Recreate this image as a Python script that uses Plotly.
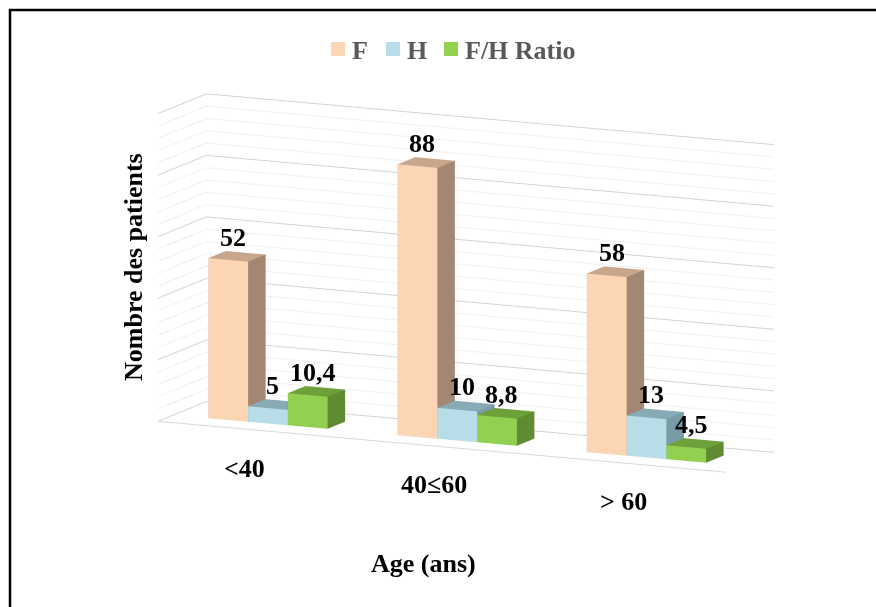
import plotly.graph_objects as go

# Data
categories = ["<40", "40≤60", "> 60"]
series_names = ["F", "H", "F/H Ratio"]
values_f = [52, 88, 58]
values_h = [5, 10, 13]
values_ratio = [10.4, 8.8, 4.5]
value_labels_ratio = ["10,4", "8,8", "4,5"]

# Face colours per series: front, top, right side
palette = {
    "F": ("#FCD5B4", "#C8A68C", "#A38773"),
    "H": ("#B7DEE8", "#88AAB4", "#7A9CA6"),
    "F/H Ratio": ("#92D050", "#6EA03A", "#5F8C32"),
}

# Geometry of the 3D frame (data units)
BAR_W = 0.21                  # bar width along category axis
GROUP_W = 3 * BAR_W
Y_FRONT, Y_BACK = 0.32, 0.68  # bar depth
Z_MAX = 100
TEXT_FONT = "Liberation Serif"
FONT_SIZE = 26


def box(x0, x1, y0, y1, z0, z1, cols):
    front, top, side = cols
    vx = [x0, x1, x1, x0, x0, x1, x1, x0]
    vy = [y0, y0, y1, y1, y0, y0, y1, y1]
    vz = [z0, z0, z0, z0, z1, z1, z1, z1]
    tri = [
        (0, 1, 5, front), (0, 5, 4, front),      # front (y0)
        (4, 5, 6, top), (4, 6, 7, top),          # top
        (1, 2, 6, side), (1, 6, 5, side),        # right (x1)
        (3, 2, 6, side), (3, 6, 7, side),        # back
        (0, 3, 7, side), (0, 7, 4, side),        # left
        (0, 1, 2, side), (0, 2, 3, side),        # bottom
    ]
    return vx, vy, vz, tri


fig = go.Figure()

series_values = [values_f, values_h, values_ratio]
for s_idx, (name, vals) in enumerate(zip(series_names, series_values)):
    X, Y, Z, I, J, K, FC = [], [], [], [], [], [], []
    for c_idx, v in enumerate(vals):
        x0 = c_idx + 0.5 - GROUP_W / 2 + s_idx * BAR_W
        vx, vy, vz, tri = box(x0, x0 + BAR_W, Y_FRONT, Y_BACK, 0, v, palette[name])
        base = len(X)
        X += vx
        Y += vy
        Z += vz
        for a, b, c, col in tri:
            I.append(base + a)
            J.append(base + b)
            K.append(base + c)
            FC.append(col)
    fig.add_trace(go.Mesh3d(
        x=X, y=Y, z=Z, i=I, j=J, k=K, facecolor=FC, flatshading=True,
        lighting=dict(ambient=1, diffuse=0, specular=0, roughness=1, fresnel=0),
        hoverinfo="skip", showlegend=False, name=name,
    ))

# Wall gridlines: back wall and left wall, minor every 4, major every 20
n_cat = len(categories)
minor_x, minor_y, minor_z = [], [], []
major_x, major_y, major_z = [], [], []
for z in range(0, Z_MAX + 1, 4):
    if z % 20 == 0:
        tx, ty, tz = major_x, major_y, major_z
    else:
        tx, ty, tz = minor_x, minor_y, minor_z
    tx += [0, 0, n_cat, None]
    ty += [0, 1, 1, None]
    tz += [z, z, z, None]

fig.add_trace(go.Scatter3d(x=minor_x, y=minor_y, z=minor_z, mode="lines",
                           line=dict(color="#EBEBEB", width=1.5),
                           hoverinfo="skip", showlegend=False))
fig.add_trace(go.Scatter3d(x=major_x, y=major_y, z=major_z, mode="lines",
                           line=dict(color="#D4D4D4", width=2),
                           hoverinfo="skip", showlegend=False))
# Floor front edge (category axis line)
fig.add_trace(go.Scatter3d(x=[0, n_cat], y=[0, 0], z=[0, 0], mode="lines",
                           line=dict(color="#D9D9D9", width=2),
                           hoverinfo="skip", showlegend=False))

# Value labels and category labels as scene annotations
scene_ann = []
label_font = dict(family=TEXT_FONT, size=FONT_SIZE, color="black", weight="bold")
for s_idx, vals in enumerate(series_values):
    for c_idx, v in enumerate(vals):
        xc = c_idx + 0.5 - GROUP_W / 2 + (s_idx + 0.5) * BAR_W
        txt = value_labels_ratio[c_idx] if s_idx == 2 else str(v)
        scene_ann.append(dict(x=xc, y=0.42, z=v, text=txt, showarrow=False,
                              xanchor="center", yanchor="bottom", yshift=4,
                              font=label_font))
for c_idx, cat in enumerate(categories):
    scene_ann.append(dict(x=c_idx + 0.5, y=0, z=0, text=cat, showarrow=False,
                          xanchor="center", yanchor="top", yshift=-22,
                          xshift=-8, font=label_font))

# Legend drawn as coloured squares with grey bold names
legend_x = [331, 386, 444]   # left edge of each square, px
shapes = []
annotations = []
for name, lx in zip(series_names, legend_x):
    shapes.append(dict(type="rect", xref="paper", yref="paper",
                       x0=lx / 876, x1=(lx + 14) / 876,
                       y0=1 - 56 / 607, y1=1 - 42 / 607,
                       fillcolor=palette[name][0], line=dict(width=0)))
    annotations.append(dict(text=name, x=(lx + 19) / 876, y=1 - 50 / 607,
                            xref="paper", yref="paper", showarrow=False,
                            xanchor="left", yanchor="middle",
                            font=dict(family=TEXT_FONT, size=FONT_SIZE,
                                      color="#595959", weight="bold")))

annotations += [
    dict(text="Nombre des patients", x=133 / 876, y=1 - 267 / 607, xref="paper",
         yref="paper", showarrow=False, textangle=-90,
         xanchor="center", yanchor="middle",
         font=dict(family=TEXT_FONT, size=FONT_SIZE, color="black", weight="bold")),
    dict(text="Age (ans)", x=423 / 876, y=1 - 563 / 607, xref="paper", yref="paper",
         showarrow=False, xanchor="center", yanchor="middle",
         font=dict(family=TEXT_FONT, size=FONT_SIZE, color="black", weight="bold")),
]

shapes.append(dict(type="rect", xref="paper", yref="paper",
                   x0=10 / 876, x1=1.02, y0=-0.02, y1=1 - 10 / 607,
                   line=dict(color="black", width=2.5)))

hidden_axis = dict(visible=False, showgrid=False, zeroline=False,
                   showbackground=False, showspikes=False)

fig.update_layout(
    width=876, height=607,
    margin=dict(l=0, r=0, t=0, b=0),
    paper_bgcolor="white",
    plot_bgcolor="white",
    showlegend=False,
    scene=dict(
        domain=dict(x=[0.112, 0.952], y=[0.134, 0.934]),
        xaxis=dict(range=[0, n_cat], **hidden_axis),
        yaxis=dict(range=[0, 1], **hidden_axis),
        zaxis=dict(range=[0, Z_MAX], **hidden_axis),
        aspectmode="manual",
        aspectratio=dict(x=2.58, y=0.47, z=1.29),
        camera=dict(
            eye=dict(x=0.37, y=-0.79, z=0.17),
            center=dict(x=0, y=0, z=0),
            up=dict(x=0, y=0, z=1),
            projection=dict(type="orthographic"),
        ),
        annotations=scene_ann,
        dragmode=False,
    ),
    annotations=annotations,
    shapes=shapes,
)

fig.write_html("out.html")
